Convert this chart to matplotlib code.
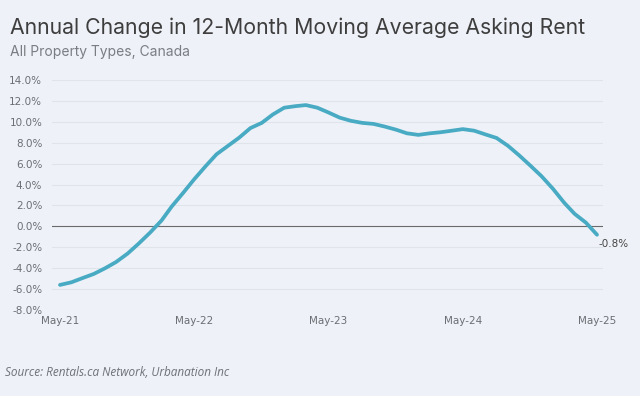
import matplotlib.pyplot as plt
import matplotlib.dates as mdates
import pandas as pd

# monthly values, May-21 .. May-25 (annual % change)
months = pd.date_range("2021-05-01", "2025-05-01", freq="MS")
change = [
    -5.6, -5.35, -4.95, -4.55, -4.0, -3.4, -2.6, -1.65, -0.6, 0.55,
    1.9, 3.2, 4.5, 5.75, 6.9, 7.7, 8.5, 9.4, 9.9, 10.7,
    11.35, 11.5, 11.6, 11.35, 10.9, 10.4, 10.1, 9.9, 9.8, 9.55,
    9.25, 8.9, 8.75, 8.9, 9.0, 9.15, 9.3, 9.15, 8.8, 8.45,
    7.7, 6.8, 5.8, 4.8, 3.6, 2.25, 1.2, 0.35, -0.8,
]
y_ticks = list(range(-8, 15, 2))
x_ticks = ["2021-05-01", "2022-05-01", "2023-05-01", "2024-05-01", "2025-05-01"]

bg = "#eef1f7"
line_color = "#48abc3"
grey = "#6b6e73"

fig = plt.figure(figsize=(6.4, 3.96), dpi=100, facecolor=bg)
ax = fig.add_axes([52 / 640, 1 - 310 / 396, (603 - 52) / 640, 230 / 396])
ax.set_facecolor(bg)

for v in y_ticks:
    if v == 0:
        ax.axhline(v, color="#6a6a6a", lw=0.8, zorder=1)
    else:
        ax.axhline(v, color="#dfe3ea", lw=0.8, zorder=1)

ax.plot(months, change, color=line_color, lw=2.7, solid_capstyle="round",
        solid_joinstyle="round", zorder=3)

ax.set_ylim(-8, 14)
x0 = pd.Timestamp("2021-05-01")
x1 = pd.Timestamp("2025-05-01")
span = (x1 - x0) / 537
ax.set_xlim(x0 - span * 8, x1 + span * 6)

ax.set_yticks(y_ticks)
ax.set_yticklabels([f"{v:.1f}%" for v in y_ticks])
ax.set_xticks(pd.to_datetime(x_ticks))
ax.xaxis.set_major_formatter(mdates.DateFormatter("%b-%y"))

ax.tick_params(axis="both", length=0, labelsize=7.5, labelcolor=grey)
ax.tick_params(axis="y", pad=7)
ax.tick_params(axis="x", pad=4)
for s in ax.spines.values():
    s.set_visible(False)

ax.annotate(f"{change[-1]:.1f}%", (months[-1], change[-1]), xytext=(1, -7),
            textcoords="offset points", fontsize=7.5, color="#444444",
            ha="left", va="center")

fig.text(10 / 640, 1 - 28 / 396, "Annual Change in 12-Month Moving Average Asking Rent",
         fontsize=15.3, color="#3e3e3e", family="Inter", va="center", ha="left")
fig.text(10 / 640, 1 - 52 / 396, "All Property Types, Canada",
         fontsize=10, color="#7a7d82", family="Inter", va="center", ha="left")
fig.text(5 / 640, 1 - 372 / 396, "Source: Rentals.ca Network, Urbanation Inc",
         fontsize=8.5, color="#6e7177", style="italic", family="Open Sans",
         va="center", ha="left")

fig.savefig("out.png", dpi=100, facecolor=bg)
